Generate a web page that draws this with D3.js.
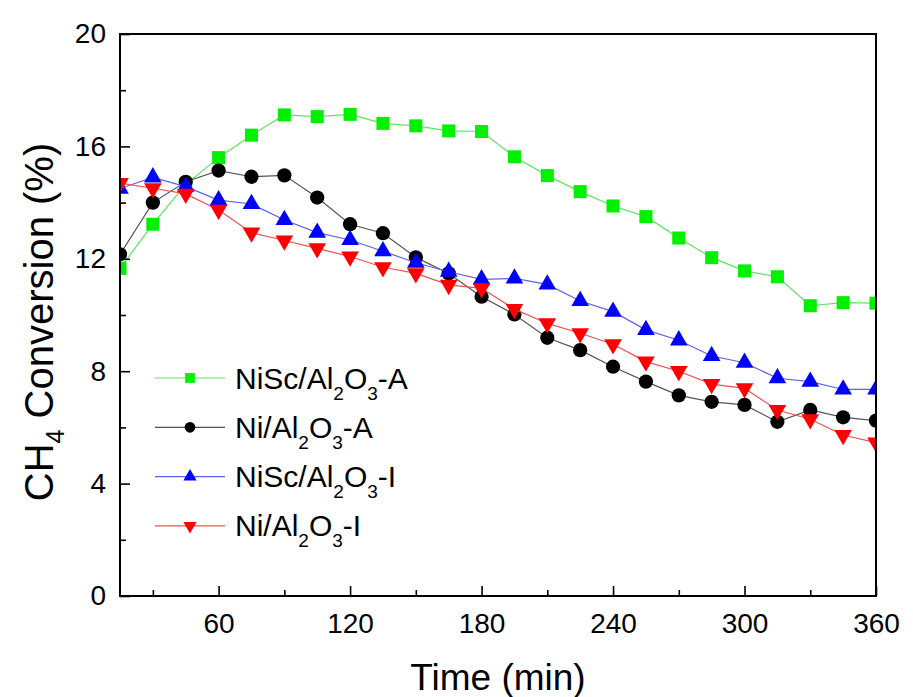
<!DOCTYPE html>
<html>
<head>
<meta charset="utf-8">
<script src="https://cdn.jsdelivr.net/npm/d3@7"></script>
<style>
  body { margin: 0; background: #fff; }
  svg text { font-family: "Liberation Sans", Arial, sans-serif; fill: #000; }
</style>
</head>
<body>
<svg></svg>
<script>
        // Data
        const times = [15, 30, 45, 60, 75, 90, 105, 120, 135, 150, 165, 180, 195, 210, 225, 240, 255, 270, 285, 300, 315, 330, 345, 360];
        const niscA = [11.66, 13.23, 14.65, 15.6, 16.4, 17.12, 17.06, 17.14, 16.82, 16.73, 16.55, 16.53, 15.63, 14.96, 14.39, 13.88, 13.5, 12.74, 12.04, 11.57, 11.36, 10.33, 10.44, 10.42];
        const niA = [12.16, 14.0, 14.74, 15.14, 14.92, 14.97, 14.18, 13.23, 12.91, 12.05, 11.48, 10.65, 10.02, 9.19, 8.75, 8.16, 7.63, 7.14, 6.91, 6.80, 6.2, 6.62, 6.36, 6.24];
        const niscI = [14.5, 14.9, 14.57, 14.09, 13.95, 13.38, 12.93, 12.67, 12.27, 11.86, 11.54, 11.27, 11.3, 11.09, 10.5, 10.12, 9.47, 9.1, 8.54, 8.3, 7.75, 7.63, 7.35, 7.35];
        const niI = [14.69, 14.51, 14.31, 13.74, 12.93, 12.65, 12.37, 12.08, 11.7, 11.48, 11.07, 10.95, 10.21, 9.7, 9.35, 8.96, 8.34, 8.0, 7.54, 7.39, 6.62, 6.29, 5.73, 5.46];
        const xTicks = [60, 120, 180, 240, 300, 360];
        const xMinor = [30, 90, 150, 210, 270, 330];
        const yTicks = [0, 4, 8, 12, 16, 20];
        const yMinor = [2, 6, 10, 14, 18];

        // legend name parts: [main, sub, main, sub, tail]
        const series = [
            { name: ["NiSc/Al", "2", "O", "3", "-A"], values: niscA, marker: "square", fill: "#00f000", line: "#5ce65c" },
            { name: ["Ni/Al", "2", "O", "3", "-A"], values: niA, marker: "circle", fill: "#000000", line: "#555555" },
            { name: ["NiSc/Al", "2", "O", "3", "-I"], values: niscI, marker: "up", fill: "#0000ff", line: "#6060ee" },
            { name: ["Ni/Al", "2", "O", "3", "-I"], values: niI, marker: "down", fill: "#ff0000", line: "#f05050" }
        ];

        // Chart dimensions
        const width = 913;
        const height = 697;
        const margin = { top: 34, right: 37, bottom: 101, left: 120 };

        const svg = d3.select("svg")
            .attr("width", width)
            .attr("height", height);

        const x = d3.scaleLinear()
            .domain([15, 360])
            .range([margin.left, width - margin.right]);

        const y = d3.scaleLinear()
            .domain([0, 20])
            .range([height - margin.bottom, margin.top]);

        // Marker path generator
        function markerPath(type, scale) {
            const s = scale || 1;
            if (type === "square") return d3.symbol(d3.symbolSquare, 170 * s * s)();
            if (type === "circle") return d3.symbol(d3.symbolCircle, 160 * s * s)();
            return d3.symbol(d3.symbolTriangle, 135 * s * s)();
        }
        function markerTransform(type, px, py) {
            return type === "down" ? `translate(${px},${py}) rotate(180)` : `translate(${px},${py})`;
        }

        svg.append("defs").append("clipPath")
            .attr("id", "plot-clip")
            .append("rect")
            .attr("x", margin.left)
            .attr("y", margin.top)
            .attr("width", width - margin.left - margin.right)
            .attr("height", height - margin.top - margin.bottom);

        const plot = svg.append("g").attr("clip-path", "url(#plot-clip)");

        const line = d3.line()
            .x((d, i) => x(times[i]))
            .y(d => y(d));

        series.forEach(s => {
            const g = plot.append("g");
            g.append("path")
                .datum(s.values)
                .attr("fill", "none")
                .attr("stroke", s.line)
                .attr("stroke-width", 1.2)
                .attr("d", line);
            g.selectAll("path.mk")
                .data(s.values)
                .join("path")
                .attr("class", "mk")
                .attr("d", markerPath(s.marker))
                .attr("transform", (d, i) => markerTransform(s.marker, x(times[i]), y(d)))
                .attr("fill", s.fill);
        });

        // Axes (ticks pointing inward)
        svg.append("g")
            .attr("transform", `translate(0,${height - margin.bottom})`)
            .call(d3.axisBottom(x).tickValues(xTicks).tickSize(-10).tickSizeOuter(0).tickPadding(17));
        svg.append("g")
            .attr("transform", `translate(0,${height - margin.bottom})`)
            .call(d3.axisBottom(x).tickValues(xMinor).tickSize(-6).tickSizeOuter(0).tickFormat(""));

        svg.append("g")
            .attr("transform", `translate(${margin.left},0)`)
            .call(d3.axisLeft(y).tickValues(yTicks).tickSize(-10).tickSizeOuter(0).tickPadding(14));
        svg.append("g")
            .attr("transform", `translate(${margin.left},0)`)
            .call(d3.axisLeft(y).tickValues(yMinor).tickSize(-6).tickSizeOuter(0).tickFormat(""));

        svg.selectAll(".domain").remove();
        svg.selectAll(".tick line").attr("stroke", "#000").attr("stroke-width", 1.6);
        svg.selectAll(".tick text")
            .style("font-size", "28px")
            .style("font-family", "'Liberation Sans', Arial, sans-serif");

        // Frame
        svg.append("rect")
            .attr("x", margin.left)
            .attr("y", margin.top)
            .attr("width", width - margin.left - margin.right)
            .attr("height", height - margin.top - margin.bottom)
            .attr("fill", "none")
            .attr("stroke", "#000")
            .attr("stroke-width", 2);

        // X-axis label
        svg.append("text")
            .attr("x", (margin.left + width - margin.right) / 2)
            .attr("y", 690)
            .attr("text-anchor", "middle")
            .style("font-size", "37px")
            .text("Time (min)");

        // Y-axis label
        const yl = svg.append("text")
            .attr("transform", `translate(53,${(margin.top + height - margin.bottom) / 2 + 7}) rotate(-90)`)
            .attr("text-anchor", "middle")
            .style("font-size", "40px");
        yl.append("tspan").text("CH");
        yl.append("tspan").attr("dy", 11).style("font-size", "25px").text("4");
        yl.append("tspan").attr("dy", -11).text(" Conversion (%)");

        // Legend
        const legend = svg.selectAll(".legend")
            .data(series)
            .join("g")
            .attr("class", "legend")
            .attr("transform", (d, i) => `translate(0,${378 + i * 49.3})`);

        legend.append("line")
            .attr("x1", 155)
            .attr("x2", 225)
            .attr("stroke", d => d.line)
            .attr("stroke-width", 1.2);

        legend.append("path")
            .attr("d", d => markerPath(d.marker, 0.75))
            .attr("transform", d => markerTransform(d.marker, 190, 0))
            .attr("fill", d => d.fill);

        legend.each(function(d) {
            const t = d3.select(this).append("text")
                .attr("x", 235)
                .attr("y", 10.5)
                .style("font-size", "30px");
            t.append("tspan").text(d.name[0]);
            t.append("tspan").attr("dy", 11).style("font-size", "19px").text(d.name[1]);
            t.append("tspan").attr("dy", -11).text(d.name[2]);
            t.append("tspan").attr("dy", 11).style("font-size", "19px").text(d.name[3]);
            t.append("tspan").attr("dy", -11).text(d.name[4]);
        });
</script>
</body>
</html>
